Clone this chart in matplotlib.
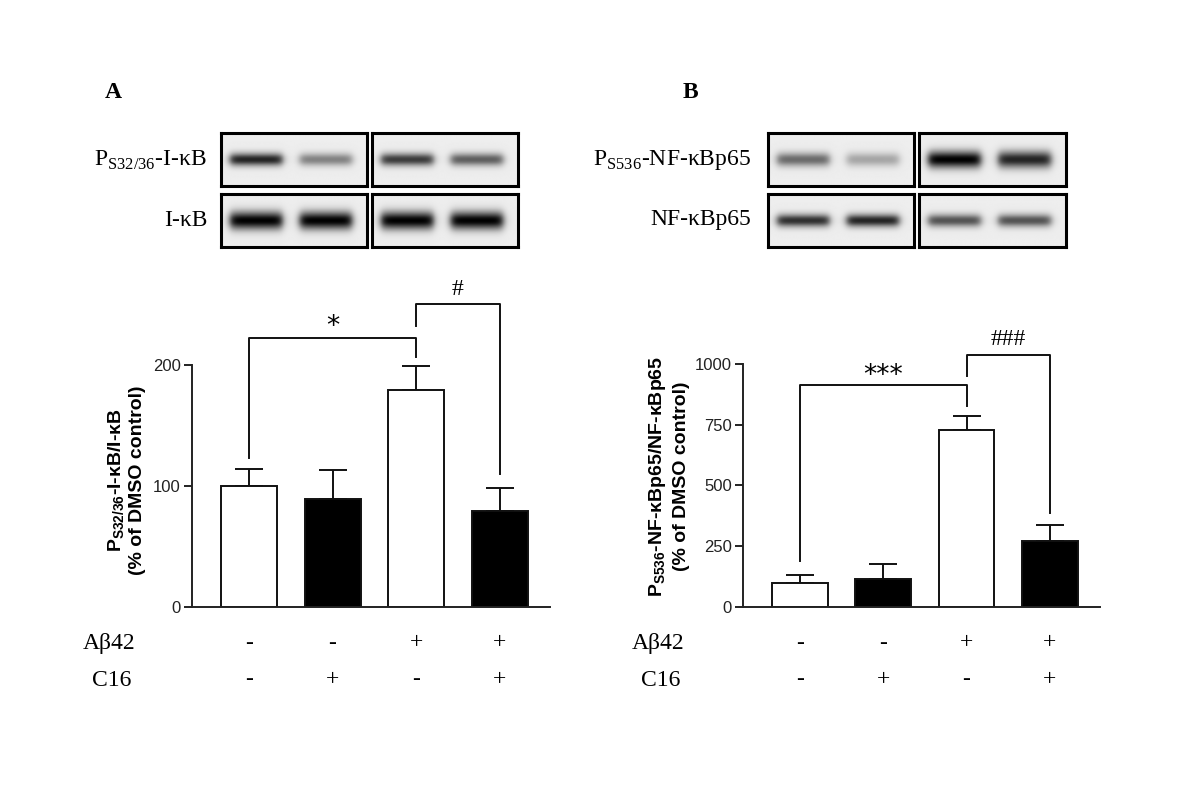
import numpy as np
import matplotlib
matplotlib.use("Agg")
import matplotlib.pyplot as plt
from matplotlib.transforms import blended_transform_factory

plt.rcParams['mathtext.fontset'] = 'custom'
plt.rcParams['mathtext.rm'] = 'Liberation Serif'
plt.rcParams['mathtext.sf'] = 'Liberation Sans:bold'
plt.rcParams['mathtext.bf'] = 'Liberation Sans:bold'

# ---------------- data ----------------
groups = ["DMSO", "C16", "Abeta42", "Abeta42+C16"]
abeta_signs = ["-", "-", "+", "+"]
c16_signs = ["-", "+", "-", "+"]
bar_colors = ["white", "black", "white", "black"]

ikb_means = [100, 89, 179, 79]
ikb_errs = [14, 24, 20, 19]
ikb_ticks = [0, 100, 200]

p65_means = [100, 117, 729, 272]
p65_errs = [30, 58, 55, 66]
p65_ticks = [0, 250, 500, 750, 1000]

# brackets: (x_left, x_right, y_bar, y_left_end, y_right_end, label, label_y)
ikb_brackets = [(0, 2, 222, 123, 207, "*", 231),
                (2, 3, 250, 232, 110, "#", 262)]
p65_brackets = [(0, 2, 913, 190, 828, "***", 950),
                (2, 3, 1038, 949, 385, "###", 1100)]

# western blot band darkness (relative) per lane
blotA_phos = [0.85, 0.45, 0.75, 0.6]
blotA_total = [1.0, 1.0, 1.0, 1.0]
blotB_phos = [0.55, 0.3, 1.0, 0.85]
blotB_total = [0.8, 0.85, 0.65, 0.65]

W, H = 1200, 789
fig = plt.figure(figsize=(W / 100, H / 100), dpi=100)


def fx(px):
    return px / W


def fy(py):
    return 1 - py / H


SERIF = "Liberation Serif"
SANS = "Liberation Sans"


def bar_panel(left_px, right_px, zero_py, top_py, means, errs, ticks, ymax, brackets, ylab1, ylab_x1, ylab_x2, ylab_cy):
    ax = fig.add_axes([fx(left_px), fy(zero_py), fx(right_px - left_px), (zero_py - top_py) / H])
    x = np.arange(len(means))
    ax.bar(x, means, width=0.67, color=bar_colors, edgecolor="#111111", linewidth=1.4, zorder=2)
    ax.errorbar(x, means, yerr=[np.zeros(len(errs)), errs], fmt="none", ecolor="#111111",
                elinewidth=1.4, capsize=10, capthick=1.4, zorder=1)
    ax.set_xlim(-0.68, 3.6)
    ax.set_ylim(0, ymax)
    ax.set_yticks(ticks)
    ax.set_yticklabels([str(t) for t in ticks], fontsize=12, family=SANS, color="#222222")
    ax.set_xticks([])
    for s in ["top", "right"]:
        ax.spines[s].set_visible(False)
    for s in ["left", "bottom"]:
        ax.spines[s].set_linewidth(1.4)
        ax.spines[s].set_color("#222222")
    ax.tick_params(axis="y", length=6, width=1.4, color="#222222", pad=2)
    for (xl, xr, yb, yl, yr, lab, ly) in brackets:
        ax.plot([xl, xl, xr, xr], [yl, yb, yb, yr], color="#111111", lw=1.4, clip_on=False)
        if lab.startswith("*"):
            ax.text((xl + xr) / 2, ly, lab, ha="center", va="center", fontsize=19, family="DejaVu Sans")
        else:
            ax.text((xl + xr) / 2, ly, lab, ha="center", va="center", fontsize=17, family=SERIF)
    # treatment signs
    tr = blended_transform_factory(ax.transData, fig.transFigure)
    for i in range(len(means)):
        ax.text(x[i], fy(643), abeta_signs[i], transform=tr, ha="center", va="center",
                fontsize=17, family=SERIF)
        ax.text(x[i], fy(680), c16_signs[i], transform=tr, ha="center", va="center",
                fontsize=17, family=SERIF)
    cy = fy(ylab_cy)
    fig.text(fx(ylab_x1), cy, ylab1, rotation=90, ha="center", va="center",
             fontsize=14, family=SANS, fontweight="bold")
    fig.text(fx(ylab_x2), cy, "(% of DMSO control)", rotation=90, ha="center", va="center",
             fontsize=14, family=SANS, fontweight="bold")
    return ax


bar_panel(192, 550, 607, 365, ikb_means, ikb_errs, ikb_ticks, 200, ikb_brackets,
          r"P$_{\mathsf{S32/36}}$-I-κB/I-κB", 117, 138, 480)
bar_panel(743, 1100, 607, 364, p65_means, p65_errs, p65_ticks, 1000, p65_brackets,
          r"P$_{\mathsf{S536}}$-NF-κBp65/NF-κBp65", 657, 681, 476)


# ---------------- blots ----------------
def band_image(strengths, row_frac, thick, nx=160, ny=60):
    xs = np.linspace(0, 1, nx)
    ys = np.linspace(1, 0, ny)
    X, Y = np.meshgrid(xs, ys)
    img = np.full_like(X, 0.93)
    centers = [0.24, 0.72]
    for c, s in zip(centers, strengths):
        hx = 1 / (1 + np.exp(-(X - (c - 0.18)) / 0.015)) * 1 / (1 + np.exp((X - (c + 0.18)) / 0.015))
        gy = np.exp(-((Y - row_frac) / thick) ** 2)
        img -= 0.93 * s * hx * gy
    return np.clip(img, 0, 1)


def blot_box(l, r, t, b, strengths, thick):
    ax = fig.add_axes([fx(l), fy(b), fx(r - l), (b - t) / H])
    ax.imshow(band_image(strengths, 0.5, thick), cmap="gray", vmin=0, vmax=1,
              extent=[0, 1, 0, 1], aspect="auto", interpolation="bilinear")
    ax.set_xticks([])
    ax.set_yticks([])
    for s in ax.spines.values():
        s.set_linewidth(2.2)
        s.set_color("black")


rows = [(133, 186), (194, 247)]
blot_box(221, 367, *rows[0], blotA_phos[:2], 0.12)
blot_box(372, 518, *rows[0], blotA_phos[2:], 0.12)
blot_box(221, 367, *rows[1], blotA_total[:2], 0.17)
blot_box(372, 518, *rows[1], blotA_total[2:], 0.17)
blot_box(768, 914, *rows[0], blotB_phos[:2], 0.13)
blot_box(919, 1066, *rows[0], blotB_phos[2:], 0.16)
blot_box(768, 914, *rows[1], blotB_total[:2], 0.12)
blot_box(919, 1066, *rows[1], blotB_total[2:], 0.12)

fig.text(fx(207), fy(160), r"P$_{\mathrm{S32/36}}$-I-κB", ha="right", va="center", fontsize=17, family=SERIF)
fig.text(fx(207), fy(220), "I-κB", ha="right", va="center", fontsize=17, family=SERIF)
fig.text(fx(751), fy(160), r"P$_{\mathrm{S536}}$-NF-κBp65", ha="right", va="center", fontsize=17, family=SERIF)
fig.text(fx(751), fy(220), "NF-κBp65", ha="right", va="center", fontsize=17, family=SERIF)

fig.text(fx(113), fy(93), "A", ha="center", va="center", fontsize=17, family=SERIF, fontweight="bold")
fig.text(fx(690), fy(93), "B", ha="center", va="center", fontsize=17, family=SERIF, fontweight="bold")

fig.text(fx(109), fy(643), "Aβ42", ha="center", va="center", fontsize=17, family=SERIF)
fig.text(fx(112), fy(680), "C16", ha="center", va="center", fontsize=17, family=SERIF)
fig.text(fx(658), fy(643), "Aβ42", ha="center", va="center", fontsize=17, family=SERIF)
fig.text(fx(661), fy(680), "C16", ha="center", va="center", fontsize=17, family=SERIF)

fig.savefig("out.png", dpi=100, facecolor="white")
